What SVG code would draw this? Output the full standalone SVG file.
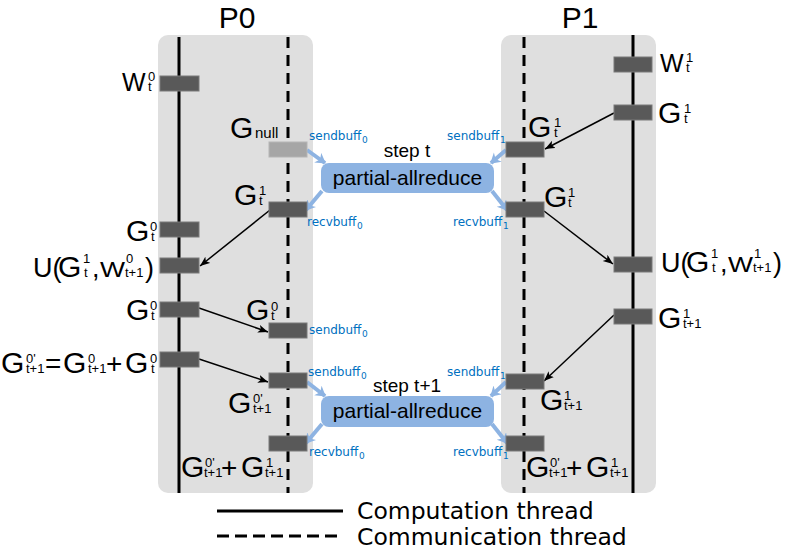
<svg xmlns="http://www.w3.org/2000/svg" width="789" height="556" viewBox="0 0 789 556">
<style>
.panel{fill:#dfdfdf}
.solid{stroke:#000;stroke-width:3;fill:none}
.dash{stroke:#000;stroke-width:3;fill:none;stroke-dasharray:11 7}
.bar{fill:#595959;stroke:#7a7a7a;stroke-width:1}
.barl{fill:#a6a6a6;stroke:#b5b5b5;stroke-width:1}
.m{font-family:"Liberation Sans",Arial,sans-serif;font-size:30px;fill:#000}
.w{font-family:"Liberation Sans",Arial,sans-serif;font-size:25px;fill:#000}
.wu{font-family:"Liberation Sans",Arial,sans-serif;font-size:22px;fill:#000}
.s{font-size:13px}
.op{font-size:28px}
.t{font-family:"Liberation Sans",Arial,sans-serif;font-size:30px;fill:#000}
.b{font-family:"DejaVu Sans",sans-serif;font-size:12px;fill:#0070c0}
.bs{font-size:9px}
.box{fill:#8db3e2}
.bt{font-family:"Liberation Sans",Arial,sans-serif;font-size:21px;fill:#000}
.st{font-family:"Liberation Sans",Arial,sans-serif;font-size:19px;fill:#000}
.arr{stroke:#000;stroke-width:1.5;fill:none;marker-end:url(#ah)}
.barr{stroke:#8db3e2;stroke-width:4;fill:none;marker-end:url(#bh)}
.leg{font-family:"DejaVu Sans",sans-serif;font-size:23.5px;fill:#000}
</style>
<defs>
<marker id="ah" markerUnits="userSpaceOnUse" markerWidth="12" markerHeight="10" refX="10" refY="4" orient="auto">
<path d="M0,0 L10,4 L0,8 L2.5,4 z" fill="#000"/>
</marker>
<marker id="bh" markerUnits="userSpaceOnUse" markerWidth="14" markerHeight="14" refX="9" refY="6" orient="auto">
<path d="M0,0 L10,6 L0,12 L3,6 z" fill="#8db3e2"/>
</marker>
</defs>

<g id="P0">
<rect class="panel" x="158" y="35" width="155" height="458" rx="10"/>
<text class="t" x="237" y="28" text-anchor="middle">P0</text>
<line class="solid" x1="179" y1="37" x2="179" y2="493"/>
<line class="dash" x1="288" y1="37" x2="288" y2="493"/>
</g>
<g id="P1">
<rect class="panel" x="501" y="35" width="155" height="458" rx="10"/>
<text class="t" x="580" y="28" text-anchor="middle">P1</text>
<line class="dash" x1="524" y1="37" x2="524" y2="493"/>
<line class="solid" x1="633" y1="35" x2="633" y2="493"/>
</g>

<g id="connectors">
<line class="arr" x1="270" y1="210" x2="200" y2="266"/>
<line class="arr" x1="199" y1="308" x2="268" y2="332"/>
<line class="arr" x1="199" y1="359" x2="268" y2="382"/>
<line class="arr" x1="614" y1="113" x2="545" y2="149"/>
<line class="arr" x1="544" y1="211" x2="613" y2="264"/>
<line class="arr" x1="614" y1="315" x2="544" y2="381"/>
<line class="barr" x1="307" y1="150" x2="325" y2="163"/>
<line class="barr" x1="506" y1="150" x2="491" y2="163"/>
<line class="barr" x1="322" y1="191" x2="306" y2="210"/>
<line class="barr" x1="492" y1="191" x2="507" y2="210"/>
<line class="barr" x1="307" y1="382" x2="325" y2="396"/>
<line class="barr" x1="506" y1="382" x2="491" y2="396"/>
<line class="barr" x1="322" y1="424" x2="306" y2="443"/>
<line class="barr" x1="492" y1="424" x2="507" y2="443"/>
</g>

<g id="p0-comp">
<rect class="bar" x="160" y="76" width="39" height="15"/>
<rect class="bar" x="160" y="222" width="39" height="15"/>
<rect class="bar" x="160" y="258" width="39" height="15"/>
<rect class="bar" x="160" y="302" width="39" height="15"/>
<rect class="bar" x="160" y="352" width="39" height="15"/>
</g>
<g id="p0-comm">
<rect class="barl" x="269" y="142" width="38" height="15"/>
<rect class="bar" x="269" y="202" width="38" height="15"/>
<rect class="bar" x="269" y="323" width="38" height="15"/>
<rect class="bar" x="269" y="373" width="38" height="15"/>
<rect class="bar" x="269" y="436" width="38" height="15"/>
</g>
<g id="p1-comm">
<rect class="bar" x="506" y="142" width="38" height="15"/>
<rect class="bar" x="506" y="202" width="38" height="15"/>
<rect class="bar" x="506" y="374" width="38" height="15"/>
<rect class="bar" x="506" y="436" width="38" height="15"/>
</g>
<g id="p1-comp">
<rect class="bar" x="614" y="57" width="38" height="15"/>
<rect class="bar" x="614" y="105" width="38" height="15"/>
<rect class="bar" x="614" y="257" width="38" height="15"/>
<rect class="bar" x="614" y="309" width="38" height="15"/>
</g>

<g id="allreduce-t">
<rect class="box" x="321" y="163" width="173" height="30" rx="8"/>
<text class="bt" x="407.5" y="185" text-anchor="middle">partial-allreduce</text>
<text class="st" x="407" y="157" text-anchor="middle">step t</text>
</g>
<g id="allreduce-t1">
<rect class="box" x="321" y="396" width="173" height="31" rx="8"/>
<text class="bt" x="407.5" y="418" text-anchor="middle">partial-allreduce</text>
<text class="st" x="407" y="392" text-anchor="middle">step t+1</text>
</g>

<g id="buffer-labels">
<text class="b" x="309" y="140">sendbuff<tspan class="bs" x="362" y="143">0</tspan></text>
<text class="b" x="447" y="140">sendbuff<tspan class="bs" x="500" y="143">1</tspan></text>
<text class="b" x="307" y="226">recvbuff<tspan class="bs" x="357" y="229">0</tspan></text>
<text class="b" x="453" y="226">recvbuff<tspan class="bs" x="503" y="229">1</tspan></text>
<text class="b" x="309" y="334">sendbuff<tspan class="bs" x="362" y="337">0</tspan></text>
<text class="b" x="308" y="376">sendbuff<tspan class="bs" x="361" y="379">0</tspan></text>
<text class="b" x="447" y="376">sendbuff<tspan class="bs" x="500" y="379">1</tspan></text>
<text class="b" x="309" y="456">recvbuff<tspan class="bs" x="359" y="459">0</tspan></text>
<text class="b" x="453" y="456">recvbuff<tspan class="bs" x="503" y="459">1</tspan></text>
</g>

<g id="p0-labels">
<text class="w" x="122" y="91">W<tspan class="s" x="148" y="81">0</tspan><tspan class="s" x="148" y="91">t</tspan></text>
<text class="m" x="230" y="138">G<tspan x="255" y="138" style="font-size:15px">null</tspan></text>
<text class="m" x="234" y="205">G<tspan class="s" x="259" y="195">1</tspan><tspan class="s" x="259" y="205">t</tspan></text>
<text class="m" x="126" y="241">G<tspan class="s" x="150" y="231">0</tspan><tspan class="s" x="151" y="241">t</tspan></text>
<text class="m" x="33" y="277"><tspan style="font-size:27px">U(</tspan><tspan x="58" y="277">G</tspan><tspan class="s" x="83" y="263">1</tspan><tspan class="s" x="84" y="277">t</tspan><tspan style="font-size:27px" x="92" y="277">,</tspan><tspan class="s" x="126" y="263">0</tspan><tspan class="s" x="125" y="277">t+1</tspan><tspan style="font-size:27px" x="145" y="277">)</tspan></text>
<text class="wu" x="100" y="277" textLength="25" lengthAdjust="spacingAndGlyphs">W</text>
<text class="m" x="126" y="320">G<tspan class="s" x="150" y="310">0</tspan><tspan class="s" x="151" y="320">t</tspan></text>
<text class="m" x="246" y="320">G<tspan class="s" x="271" y="311">0</tspan><tspan class="s" x="271" y="320">t</tspan></text>
<text class="m" x="1" y="373">G<tspan class="s" x="26" y="363">0'</tspan><tspan class="s" x="26" y="373">t+1</tspan><tspan class="op" x="45" y="373">=</tspan><tspan x="63" y="373">G</tspan><tspan class="s" x="88" y="363">0</tspan><tspan class="s" x="88" y="373">t+1</tspan><tspan class="op" x="106" y="373">+</tspan><tspan x="125" y="373">G</tspan><tspan class="s" x="150" y="363">0</tspan><tspan class="s" x="151" y="373">t</tspan></text>
<text class="m" x="228" y="413">G<tspan class="s" x="253" y="403">0'</tspan><tspan class="s" x="253" y="413">t+1</tspan></text>
<text class="m" x="181" y="477">G<tspan class="s" x="205" y="467">0'</tspan><tspan class="s" x="204" y="477">t+1</tspan><tspan class="op" x="221" y="477">+</tspan><tspan x="241" y="477">G</tspan><tspan class="s" x="266" y="467">1</tspan><tspan class="s" x="265" y="477">t+1</tspan></text>
</g>

<g id="p1-labels">
<text class="w" x="660" y="72">W<tspan class="s" x="686" y="62">1</tspan><tspan class="s" x="686" y="72">t</tspan></text>
<text class="m" x="658" y="123">G<tspan class="s" x="684" y="113">1</tspan><tspan class="s" x="684" y="123">t</tspan></text>
<text class="m" x="528" y="137">G<tspan class="s" x="554" y="127">1</tspan><tspan class="s" x="554" y="137">t</tspan></text>
<text class="m" x="544" y="207">G<tspan class="s" x="568" y="197">1</tspan><tspan class="s" x="568" y="207">t</tspan></text>
<text class="m" x="661" y="272"><tspan style="font-size:27px">U(</tspan><tspan x="686" y="272">G</tspan><tspan class="s" x="711" y="258">1</tspan><tspan class="s" x="712" y="272">t</tspan><tspan style="font-size:27px" x="720" y="272">,</tspan><tspan class="s" x="754" y="258">1</tspan><tspan class="s" x="753" y="272">t+1</tspan><tspan style="font-size:27px" x="773" y="272">)</tspan></text>
<text class="wu" x="728" y="272" textLength="25" lengthAdjust="spacingAndGlyphs">W</text>
<text class="m" x="658" y="328">G<tspan class="s" x="683" y="318">1</tspan><tspan class="s" x="683" y="328">t+1</tspan></text>
<text class="m" x="540" y="410">G<tspan class="s" x="564" y="400">1</tspan><tspan class="s" x="564" y="410">t+1</tspan></text>
<text class="m" x="526" y="477">G<tspan class="s" x="550" y="467">0'</tspan><tspan class="s" x="549" y="477">t+1</tspan><tspan class="op" x="566" y="477">+</tspan><tspan x="586" y="477">G</tspan><tspan class="s" x="611" y="467">1</tspan><tspan class="s" x="610" y="477">t+1</tspan></text>
</g>

<g id="legend">
<line class="solid" x1="217" y1="511" x2="343" y2="511"/>
<text class="leg" x="357" y="519">Computation thread</text>
<line class="dash" x1="217" y1="536" x2="343" y2="536" style="stroke-dasharray:12 6"/>
<text class="leg" x="357" y="545">Communication thread</text>
</g>
</svg>
